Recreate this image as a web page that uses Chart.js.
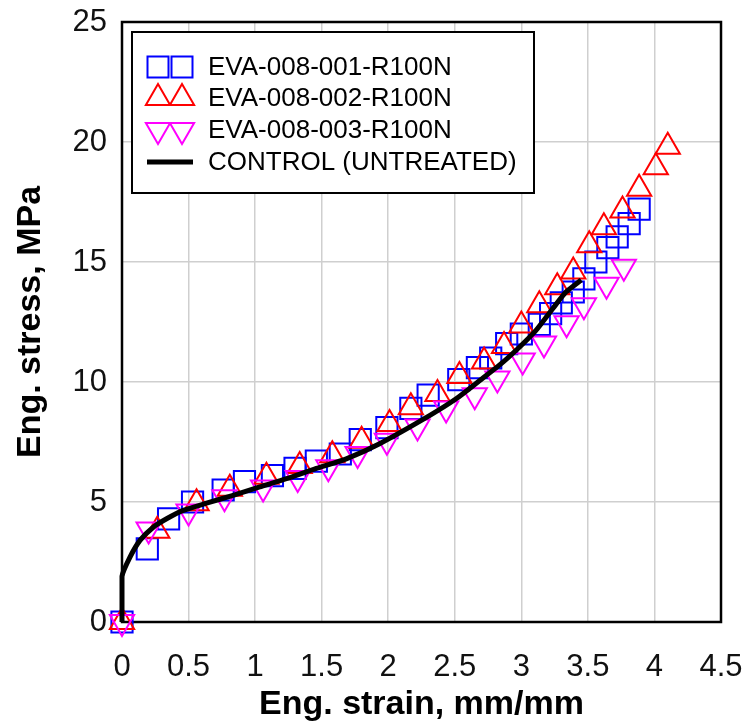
<!DOCTYPE html>
<html>
<head>
<meta charset="utf-8">
<script src="https://cdn.jsdelivr.net/npm/chart.js@4.4.0/dist/chart.umd.min.js"></script>
<style>
  body { margin: 0; background: #fff; }
  canvas { display: block; }
</style>
</head>
<body>
<canvas id="chart" width="747" height="725"></canvas>
<script>
// DATA
const seriesNames = ['EVA-008-001-R100N', 'EVA-008-002-R100N', 'EVA-008-003-R100N', 'CONTROL (UNTREATED)'];

const strain001 = [0, 0.19, 0.35, 0.53, 0.76, 0.92, 1.13, 1.30, 1.46, 1.64, 1.79, 1.99, 2.17, 2.30, 2.53, 2.67, 2.77, 2.89, 3.00, 3.135, 3.22, 3.30, 3.39, 3.47, 3.56, 3.65, 3.72, 3.81, 3.885];
const stress001 = [0, 3.05, 4.3, 5.0, 5.5, 5.85, 6.1, 6.4, 6.7, 7.0, 7.6, 8.1, 8.9, 9.45, 10.1, 10.6, 11.0, 11.6, 12.0, 12.4, 12.85, 13.3, 13.75, 14.3, 15.0, 15.6, 16.05, 16.6, 17.2];

const strain002 = [0, 0.265, 0.56, 0.81, 1.085, 1.335, 1.58, 1.80, 2.01, 2.17, 2.37, 2.535, 2.72, 2.87, 3.00, 3.135, 3.27, 3.39, 3.51, 3.62, 3.76, 3.885, 4.01, 4.10];
const stress002 = [0, 3.8, 4.95, 5.55, 6.05, 6.5, 6.95, 7.55, 8.25, 8.95, 9.5, 10.25, 10.85, 11.5, 12.35, 13.2, 13.95, 14.6, 15.7, 16.45, 17.15, 18.05, 18.95, 19.8];

const strain003 = [0, 0.20, 0.50, 0.77, 1.06, 1.32, 1.55, 1.77, 1.99, 2.22, 2.435, 2.65, 2.82, 3.01, 3.17, 3.34, 3.47, 3.64, 3.77];
const stress003 = [0, 3.85, 4.6, 5.2, 5.6, 6.0, 6.45, 7.0, 7.55, 8.15, 8.9, 9.45, 10.15, 10.9, 11.6, 12.45, 13.2, 14.05, 14.8];

const strainControl = [0, 0, 0.06, 0.135, 0.235, 0.335, 0.46, 0.635, 0.835, 1.035, 1.235, 1.46, 1.685, 1.935, 2.31, 2.51, 2.685, 2.835, 2.985, 3.11, 3.235, 3.335, 3.45];
const stressControl = [0, 1.9, 2.7, 3.4, 3.95, 4.3, 4.65, 4.95, 5.28, 5.63, 5.97, 6.4, 6.8, 7.43, 8.6, 9.3, 10.05, 10.7, 11.45, 12.15, 13.05, 13.75, 14.25];

const xMin = 0, xMax = 4.5, xStep = 0.5;
const yMin = 0, yMax = 25, yStep = 5;

const toPoints = (xs, ys) => xs.map((x, i) => ({ x: x, y: ys[i] }));

const BLUE = '#0000ff', RED = '#ff0000', MAGENTA = '#ff00ff';

// frame around the plot area, under the data
const framePlugin = {
  id: 'frame',
  beforeDatasetsDraw(chart) {
    const a = chart.chartArea, ctx = chart.ctx;
    ctx.save();
    ctx.strokeStyle = '#000';
    ctx.lineWidth = 2.5;
    ctx.strokeRect(a.left, a.top, a.right - a.left, a.bottom - a.top);
    ctx.restore();
  }
};

// excel-like legend box with two markers per entry
function drawMarker(ctx, style, x, y, color) {
  ctx.strokeStyle = color;
  ctx.lineWidth = 2;
  ctx.beginPath();
  if (style === 'rect') {
    ctx.rect(x - 10.5, y - 10.5, 21, 21);
  } else if (style === 'triangle' || style === 'down') {
    const r = 14, s = style === 'down' ? -1 : 1;
    ctx.moveTo(x, y - s * r);
    ctx.lineTo(x + r * 0.866, y + s * r / 2);
    ctx.lineTo(x - r * 0.866, y + s * r / 2);
    ctx.closePath();
  }
  ctx.stroke();
}

const legendPlugin = {
  id: 'boxLegend',
  afterDraw(chart) {
    const ctx = chart.ctx;
    ctx.save();
    ctx.fillStyle = '#fff';
    ctx.fillRect(132, 32, 402, 161);
    ctx.strokeStyle = '#000';
    ctx.lineWidth = 2;
    ctx.strokeRect(132, 32, 402, 161);
    const rows = [67, 98, 130, 162];
    const styles = ['rect', 'triangle', 'down'];
    chart.data.datasets.forEach((ds, i) => {
      const y = rows[i];
      if (i < 3) {
        drawMarker(ctx, styles[i], 158, y, ds.borderColor);
        drawMarker(ctx, styles[i], 182, y, ds.borderColor);
      } else {
        ctx.strokeStyle = '#000';
        ctx.lineWidth = 5;
        ctx.beginPath();
        ctx.moveTo(147, y);
        ctx.lineTo(193, y);
        ctx.stroke();
      }
      ctx.fillStyle = '#000';
      ctx.font = '26px "Liberation Sans", Arial, sans-serif';
      ctx.textBaseline = 'middle';
      ctx.textAlign = 'left';
      ctx.fillText(ds.label, 208, y + 1);
    });
    ctx.restore();
  }
};

const tickFont = { family: '"Liberation Sans", Arial, sans-serif', size: 31 };
const titleFont = { family: '"Liberation Sans", Arial, sans-serif', size: 34, weight: 'bold' };

new Chart(document.getElementById('chart'), {
  type: 'scatter',
  data: {
    datasets: [
      {
        label: seriesNames[0],
        data: toPoints(strain001, stress001),
        borderColor: BLUE, backgroundColor: 'rgba(0,0,0,0)',
        pointStyle: 'rect', pointRadius: 15, borderWidth: 2,
        showLine: false, clip: false, order: 3
      },
      {
        label: seriesNames[1],
        data: toPoints(strain002, stress002),
        borderColor: RED, backgroundColor: 'rgba(0,0,0,0)',
        pointStyle: 'triangle', pointRadius: 14, borderWidth: 2,
        showLine: false, clip: false, order: 2
      },
      {
        label: seriesNames[2],
        data: toPoints(strain003, stress003),
        borderColor: MAGENTA, backgroundColor: 'rgba(0,0,0,0)',
        pointStyle: 'triangle', pointRotation: 180, pointRadius: 14, borderWidth: 2,
        showLine: false, clip: false, order: 1
      },
      {
        label: seriesNames[3],
        data: toPoints(strainControl, stressControl),
        borderColor: '#000', backgroundColor: '#000',
        pointRadius: 0, borderWidth: 5, showLine: true, tension: 0.2,
        clip: false, order: 0
      }
    ]
  },
  options: {
    responsive: false,
    animation: false,
    layout: { autoPadding: false, padding: { top: 22, right: 26, left: 0, bottom: 0 } },
    plugins: { legend: { display: false }, tooltip: { enabled: false } },
    scales: {
      x: {
        type: 'linear', min: xMin, max: xMax,
        ticks: { stepSize: xStep, font: tickFont, color: '#111', padding: 0, maxRotation: 0,
                 callback: v => String(v) },
        grid: { color: '#cfcfcf', lineWidth: 1.5, drawTicks: true, tickLength: 27, tickColor: 'rgba(0,0,0,0)' },
        border: { display: false },
        title: { display: true, text: 'Eng. strain, mm/mm', font: titleFont, color: '#000', padding: { top: 2, bottom: 0 } },
        afterFit(scale) { scale.height = 103; }
      },
      y: {
        type: 'linear', min: yMin, max: yMax,
        ticks: { stepSize: yStep, font: tickFont, color: '#111', padding: 0, callback: v => String(v) },
        grid: { color: '#cfcfcf', lineWidth: 1.5, drawTicks: true, tickLength: 15, tickColor: 'rgba(0,0,0,0)' },
        border: { display: false },
        title: { display: true, text: 'Eng. stress, MPa', font: titleFont, color: '#000', padding: { top: 10, bottom: 0 } },
        afterFit(scale) { scale.width = 122; }
      }
    }
  },
  plugins: [framePlugin, legendPlugin]
});
</script>
</body>
</html>
